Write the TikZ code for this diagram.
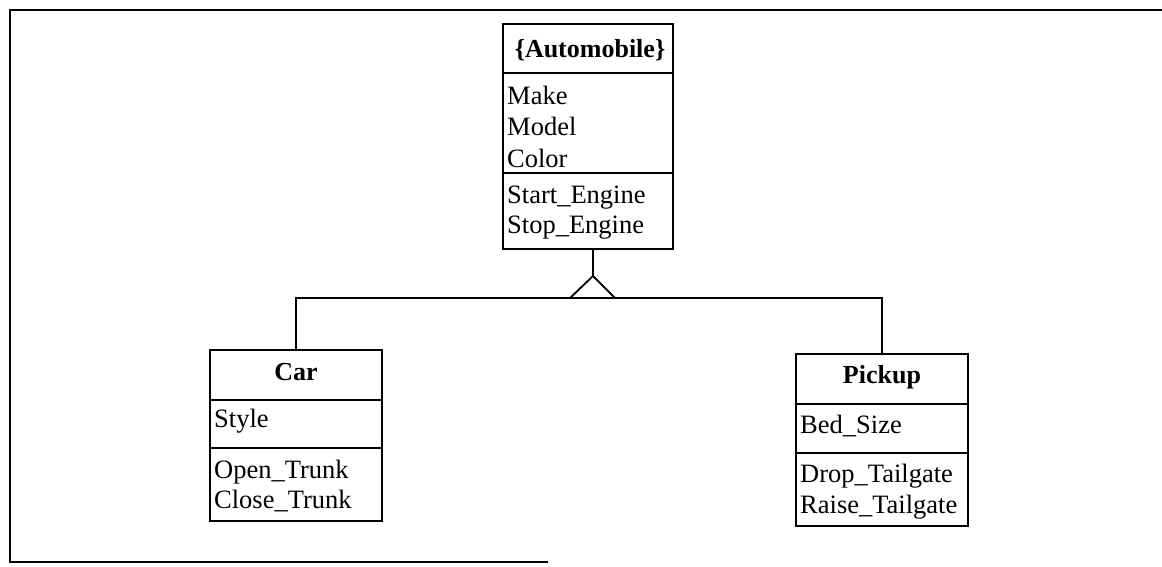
\documentclass[tikz,border=0pt]{standalone}
\usepackage{fontspec}
\setmainfont{Liberation Serif}
\begin{document}
\begin{tikzpicture}[x=1pt,y=-1pt,
  frame/.style={line width=1.8pt},
  classbox/.style={draw,line width=1.8pt,anchor=north west,inner sep=0pt,outer sep=0pt},
  conn/.style={line width=1.8pt},
  hdr/.style={anchor=base,inner sep=0pt,font=\fontsize{26}{30}\selectfont\bfseries},
  itm/.style={anchor=base west,inner sep=0pt,font=\fontsize{26.5}{30}\selectfont}]
\useasboundingbox (0,0) rectangle (1162,566);
\draw[frame] (548,562) -- (10,562) -- (10,10) -- (1162,10);

% Automobile
\node[classbox,minimum width=170pt,minimum height=225pt] (auto) at (503,24) {};
\draw[conn] ([yshift=-49pt]auto.north west) -- ([yshift=-49pt]auto.north east);
\draw[conn] ([yshift=-149pt]auto.north west) -- ([yshift=-149pt]auto.north east);
\node[hdr] (autoh) at ([xshift=2pt,yshift=-33pt]auto.north) {\{Automobile\}};
\node[itm] (make) at ([xshift=4pt,yshift=-80pt]auto.north west) {Make};
\node[itm] (model) at ([xshift=4pt,yshift=-111pt]auto.north west) {Model};
\node[itm] (color) at ([xshift=4pt,yshift=-143pt]auto.north west) {Color};
\node[itm] (start) at ([xshift=4pt,yshift=-179pt]auto.north west) {Start\_Engine};
\node[itm] (stop) at ([xshift=4pt,yshift=-209pt]auto.north west) {Stop\_Engine};

% Car
\node[classbox,minimum width=172pt,minimum height=171pt] (car) at (210,350) {};
\draw[conn] ([yshift=-50pt]car.north west) -- ([yshift=-50pt]car.north east);
\draw[conn] ([yshift=-98pt]car.north west) -- ([yshift=-98pt]car.north east);
\node[hdr] (carh) at ([yshift=-30pt]car.north) {Car};
\node[itm] (style) at ([xshift=4pt,yshift=-77pt]car.north west) {Style};
\node[itm] (open) at ([xshift=4pt,yshift=-128pt]car.north west) {Open\_Trunk};
\node[itm] (close) at ([xshift=4pt,yshift=-158pt]car.north west) {Close\_Trunk};

% Pickup
\node[classbox,minimum width=172pt,minimum height=172pt] (pickup) at (796,354) {};
\draw[conn] ([yshift=-50pt]pickup.north west) -- ([yshift=-50pt]pickup.north east);
\draw[conn] ([yshift=-99pt]pickup.north west) -- ([yshift=-99pt]pickup.north east);
\node[hdr] (pickh) at ([yshift=-29pt]pickup.north) {Pickup};
\node[itm] (bed) at ([xshift=4pt,yshift=-79pt]pickup.north west) {Bed\_Size};
\node[itm] (drop) at ([xshift=4pt,yshift=-128pt]pickup.north west) {Drop\_Tailgate};
\node[itm] (raise) at ([xshift=4pt,yshift=-159pt]pickup.north west) {Raise\_Tailgate};

% Generalization
\coordinate (apex) at (593,276);
\coordinate (tl) at (570,298);
\coordinate (tr) at (615,298);
\draw[conn] (auto.south -| apex) -- (apex);
\draw[conn,line join=miter] (tl) -- (apex) -- (tr);
\draw[conn] (car.north) -- (car.north |- tl) -- (pickup.north |- tl) -- (pickup.north);
\end{tikzpicture}
\end{document}
